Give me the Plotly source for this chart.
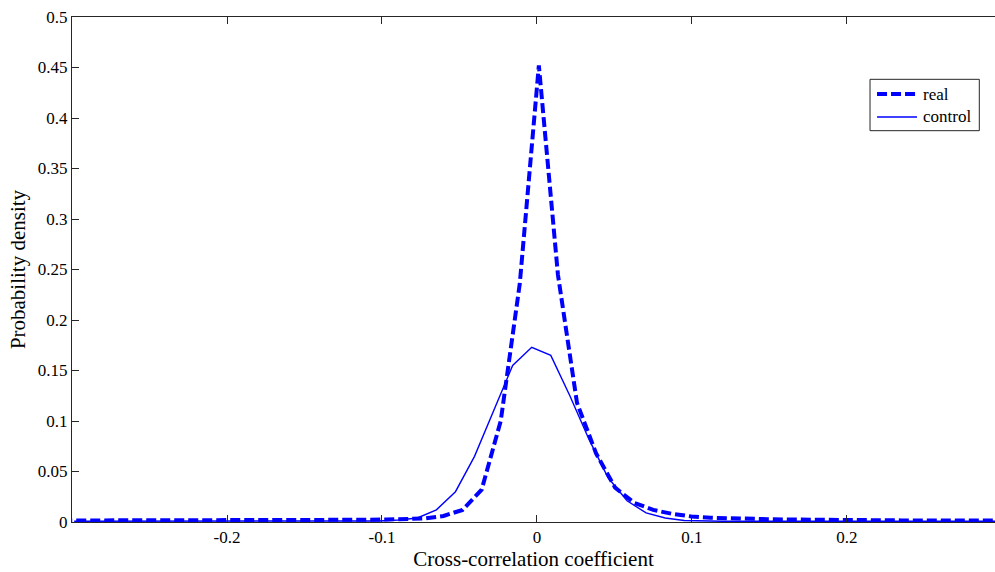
import plotly.graph_objects as go

# Histogram bin centres and probability densities for the two distributions
real_x = [-0.3063, -0.2940, -0.2817, -0.2694, -0.2571, -0.2448, -0.2325, -0.2202,
          -0.2079, -0.1956, -0.1833, -0.1710, -0.1587, -0.1464, -0.1341, -0.1218,
          -0.1095, -0.0972, -0.0849, -0.0726, -0.0603, -0.0480, -0.0357, -0.0234,
          -0.0111, 0.0012, 0.0135, 0.0258, 0.0381, 0.0504, 0.0627, 0.0750,
          0.0873, 0.0996, 0.1119, 0.1242, 0.1365, 0.1488, 0.1611, 0.1734,
          0.1857, 0.1980, 0.2103, 0.2226, 0.2349, 0.2472, 0.2595, 0.2718,
          0.2841, 0.2964]
real_y = [0.0015, 0.0015, 0.0015, 0.0015, 0.0015, 0.0015, 0.0015, 0.0015,
          0.0015, 0.0015, 0.0015, 0.0016, 0.0019, 0.0020, 0.0020, 0.0021,
          0.0022, 0.0025, 0.0030, 0.0035, 0.0060, 0.0120, 0.0320, 0.1000,
          0.2360, 0.4520, 0.2450, 0.1180, 0.0680, 0.0340, 0.0190, 0.0120,
          0.0080, 0.0055, 0.0042, 0.0035, 0.0030, 0.0028, 0.0025, 0.0022,
          0.0020, 0.0020, 0.0018, 0.0017, 0.0016, 0.0016, 0.0015, 0.0015,
          0.0015, 0.0015]

control_x = [-0.2986, -0.2863, -0.2740, -0.2617, -0.2494, -0.2371, -0.2248, -0.2125,
             -0.2002, -0.1879, -0.1756, -0.1633, -0.1510, -0.1387, -0.1264, -0.1141,
             -0.1018, -0.0895, -0.0772, -0.0649, -0.0526, -0.0403, -0.0280, -0.0157,
             -0.0034, 0.0089, 0.0212, 0.0335, 0.0458, 0.0581, 0.0704, 0.0827,
             0.0950, 0.1073, 0.1196, 0.1319, 0.1442, 0.1565, 0.1688, 0.1811,
             0.1934, 0.2057, 0.2180, 0.2303, 0.2426, 0.2549, 0.2672, 0.2795,
             0.2918, 0.3041]
control_y = [0.0008, 0.0008, 0.0008, 0.0008, 0.0008, 0.0008, 0.0008, 0.0008,
             0.0008, 0.0008, 0.0008, 0.0008, 0.0008, 0.0008, 0.0008, 0.0008,
             0.0010, 0.0020, 0.0040, 0.0120, 0.0300, 0.0650, 0.1100, 0.1550,
             0.1730, 0.1650, 0.1250, 0.0820, 0.0440, 0.0210, 0.0090, 0.0040,
             0.0015, 0.0008, 0.0008, 0.0008, 0.0008, 0.0008, 0.0008, 0.0008,
             0.0008, 0.0008, 0.0008, 0.0008, 0.0008, 0.0008, 0.0008, 0.0008,
             0.0008, 0.0008]

series_names = ["real", "control"]
x_ticks = [-0.2, -0.1, 0, 0.1, 0.2]
y_ticks = [0, 0.05, 0.1, 0.15, 0.2, 0.25, 0.3, 0.35, 0.4, 0.45, 0.5]

BLUE = "#0000FF"
AXIS = "#262626"
FONT = "Liberation Serif, DejaVu Serif, serif"
REAL_LINE = dict(color=BLUE, width=4, dash="10px,4px")
CONTROL_LINE = dict(color=BLUE, width=1.4)

fig = go.Figure()
fig.add_trace(go.Scatter(x=real_x, y=real_y, mode="lines",
                         name=series_names[0], line=REAL_LINE))
fig.add_trace(go.Scatter(x=control_x, y=control_y, mode="lines",
                         name=series_names[1], line=CONTROL_LINE))

# Boxed legend in the upper right corner of the axes (paper coordinates)
box = dict(x0=0.8646, x1=0.9830, y0=0.7749, y1=0.8766)
sample_x0, sample_x1, text_x = 0.8722, 0.9155, 0.9198
rows_y = [0.8475, 0.8020]
shapes = [dict(type="rect", xref="paper", yref="paper", **box,
               line=dict(color=AXIS, width=1), fillcolor="white", layer="above")]
annotations = []
for name, line_style, ry in zip(series_names, [REAL_LINE, CONTROL_LINE], rows_y):
    shapes.append(dict(type="line", xref="paper", yref="paper",
                       x0=sample_x0, x1=sample_x1, y0=ry, y1=ry,
                       line=line_style, layer="above"))
    annotations.append(dict(xref="paper", yref="paper", x=text_x, y=ry,
                            xanchor="left", yanchor="middle", text=name,
                            showarrow=False,
                            font=dict(family=FONT, size=17, color="black")))

fig.update_layout(
    width=995, height=572,
    margin=dict(l=72, r=0, t=17, b=50),
    paper_bgcolor="white", plot_bgcolor="white",
    font=dict(family=FONT, size=17, color="black"),
    showlegend=False,
    shapes=shapes,
    annotations=annotations,
    xaxis=dict(
        range=[-0.3, 0.2955], tickvals=x_ticks,
        ticktext=["-0.2", "-0.1", "0", "0.1", "0.2"],
        ticks="inside", ticklen=7, tickcolor=AXIS, tickwidth=1,
        showline=True, linecolor=AXIS, linewidth=1, mirror="ticks",
        showgrid=False, zeroline=False,
        tickfont=dict(family=FONT, size=17),
        title=dict(text="Cross-correlation coefficient",
                   font=dict(family=FONT, size=21), standoff=3),
    ),
    yaxis=dict(
        range=[0, 0.5], tickvals=y_ticks,
        ticktext=["0", "0.05", "0.1", "0.15", "0.2", "0.25", "0.3",
                  "0.35", "0.4", "0.45", "0.5"],
        ticks="inside", ticklen=7, tickcolor=AXIS, tickwidth=1,
        showline=True, linecolor=AXIS, linewidth=1,
        showgrid=False, zeroline=False,
        tickfont=dict(family=FONT, size=17),
        title=dict(text="Probability density",
                   font=dict(family=FONT, size=21), standoff=6),
    ),
)

fig.write_html("out.html")
